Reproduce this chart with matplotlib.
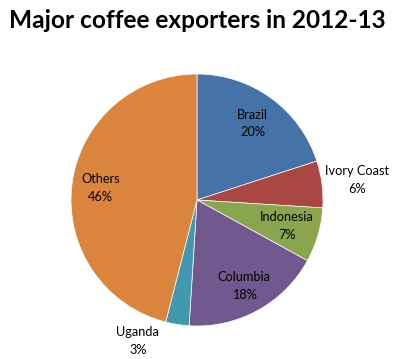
import matplotlib
matplotlib.use("Agg")
import matplotlib.pyplot as plt
import numpy as np

categories = ["Brazil", "Ivory Coast", "Indonesia", "Columbia", "Uganda", "Others"]
shares = [20, 6, 7, 18, 3, 46]
pct_labels = ["20%", "6%", "7%", "18%", "3%", "46%"]
colors = ["#4572A7", "#AA4643", "#89A54E", "#71588F", "#4198AF", "#DB843D"]

W, H = 409, 359
fig = plt.figure(figsize=(W / 100, H / 100), dpi=100)
cx, cy, r = 197, 200, 126
ax = fig.add_axes([(cx - r) / W, (H - cy - r) / H, 2 * r / W, 2 * r / H])
ax.set_aspect("equal")

wedges, _ = ax.pie(shares, colors=colors, startangle=90, counterclock=False,
                   radius=1.0, wedgeprops=dict(edgecolor="#ffffff", linewidth=0.5))
ax.set_xlim(-1, 1)
ax.set_ylim(-1, 1)

# label placement (radius as fraction of pie radius); Uganda placed manually
label_radius = [0.75, 1.28, 0.74, 0.78, None, 0.77]
manual = {4: (-0.47, -1.12)}
total = sum(shares)
cum = 0
for i, (name, v) in enumerate(zip(categories, shares)):
    mid = (cum + v / 2) / total * 360
    cum += v
    ang = np.deg2rad(90 - mid)
    if i in manual:
        x, y = manual[i]
    else:
        x, y = label_radius[i] * np.cos(ang), label_radius[i] * np.sin(ang)
    ax.text(x, y, f"{name}\n{pct_labels[i]}", ha="center", va="center",
            fontsize=9.2, family="Lato", color="#000000", linespacing=1.55,
            clip_on=False)

fig.text(197 / W, 1 - 21 / H, "Major coffee exporters in 2012-13", ha="center",
         va="center", fontsize=17.6, fontweight="bold", family="Lato")

fig.savefig("out.png", dpi=100, facecolor="white")
